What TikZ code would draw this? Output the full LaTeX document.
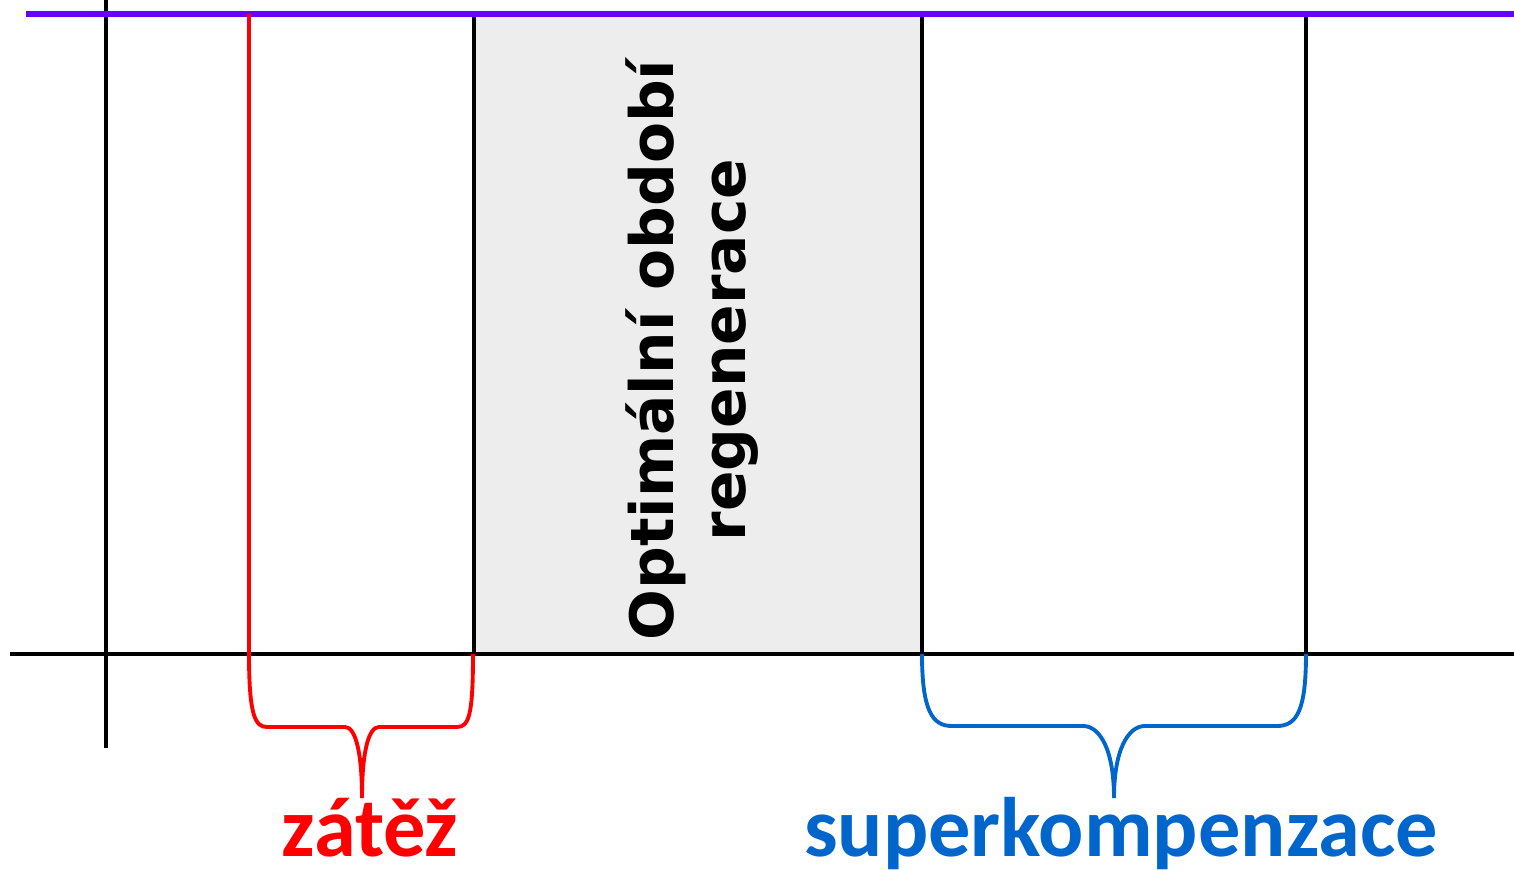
\documentclass[tikz,border=0pt]{standalone}
\usepackage{fontspec}
\setmainfont{Liberation Sans}
\newfontfamily\labelfont{Carlito}
\newfontfamily\regenfont{DejaVu Sans}
\definecolor{violetline}{RGB}{102,0,255}
\definecolor{loadred}{RGB}{255,0,0}
\definecolor{superblue}{RGB}{0,102,204}
\definecolor{regengray}{RGB}{237,237,237}
\begin{document}
\begin{tikzpicture}[x=0.01cm,y=-0.01cm,
    axis/.style={draw=black, line width=1.2pt},
    brace/.style={line width=1.1pt},
    tagtext/.style={font=\labelfont\bfseries\fontsize{24}{28}\selectfont, inner sep=0pt, anchor=base}]
        \useasboundingbox (0,0) rectangle (1514,870);
        % regeneration window
        \coordinate (rtl) at (474,14); \coordinate (rbr) at (922,654);
        \filldraw[axis, fill=regengray] (rtl) rectangle (rbr);
        \node[rotate=90, align=center, inner sep=0pt, text=black, font=\regenfont\bfseries\fontsize{17}{20.5}\selectfont] (regen) at (692,350) {Optimální období\\regenerace};

        % axes and guide lines
        \coordinate (ytop) at (106,0); \coordinate (ybot) at (106,748);
        \coordinate (xl) at (10,654); \coordinate (xr) at (1514,654);
        \coordinate (tl) at (26,14); \coordinate (tr) at (1514,14);
        \draw[axis] (ytop)--(ybot);
        \draw[axis] (xl)--(xr);
        \draw[axis] (1306,14)--(1306,654);
        \draw[violetline, line width=1.5pt] (tl)--(tr);

        % braces
        \coordinate (za) at (249,14); \coordinate (zb) at (249,654);
        \coordinate (ze) at (473,654); \coordinate (zt) at (362,798);
        \coordinate (sa) at (922,654); \coordinate (se) at (1306,654);
        \coordinate (st) at (1114,798);
        \draw[loadred, brace] (za)--(zb) .. controls (249,715) and (255,727) .. (267,727) -- (345,727)
            .. controls (355,727) and (362,750) .. (zt) .. controls (362,750) and (369,727) .. (379,727)
            -- (457,727) .. controls (469,727) and (473,715) .. (ze);
        \draw[superblue, brace] (sa) .. controls (922,710) and (932,726) .. (952,726) -- (1083,726)
            .. controls (1100,726) and (1114,750) .. (st) .. controls (1114,750) and (1128,726) .. (1145,726)
            -- (1277,726) .. controls (1297,726) and (1306,710) .. (se);

        \node[tagtext, text=loadred] (zatez) at (370,856) {zátěž};
        \node[tagtext, text=superblue] (superk) at (1121,856) {superkompenzace};
    \end{tikzpicture}
\end{document}
